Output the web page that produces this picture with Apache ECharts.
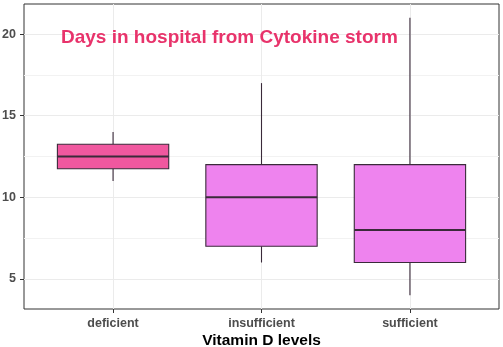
<!DOCTYPE html>
<html>
<head>
<meta charset="utf-8">
<script src="https://cdn.jsdelivr.net/npm/echarts@6/dist/echarts.min.js"></script>
<style>html,body{margin:0;padding:0;background:#fff}#c{width:503px;height:347px}</style>
</head>
<body>
<div id="c"></div>
<script>
// ---- data ----
const categories = ['deficient', 'insufficient', 'sufficient'];
const lowWhisker = [11, 6, 4];
const q1 = [11.75, 7, 6];
const median = [12.5, 10, 8];
const q3 = [13.25, 12, 12];
const highWhisker = [14, 17, 21];
const yTicks = [5, 10, 15, 20];
const yMinorTicks = [7.5, 12.5, 17.5];
const titleText = 'Days in hospital from Cytokine storm';
const xTitle = 'Vitamin D levels';

// ---- styles ----
const fills = ['#F0589F', '#EE83EE', '#EE83EE'];
const FONT = 'Liberation Sans, Arial, sans-serif';

const boxData = categories.map((c, i) => [i, lowWhisker[i], q1[i], median[i], q3[i], highWhisker[i]]);

const chart = echarts.init(document.getElementById('c'), null, {renderer: 'canvas'});
chart.setOption({
  animation: false,
  backgroundColor: '#fff',
  title: {
    text: titleText,
    left: 61, top: 28,
    padding: 0,
    textStyle: {fontFamily: FONT, fontSize: 19, fontWeight: 'bold', color: '#E8336B'}
  },
  grid: {
    left: 24, right: 4, top: 4, bottom: 38,
    outerBoundsMode: 'none', containLabel: false,
    show: true, borderColor: '#333333', borderWidth: 1, backgroundColor: '#fff'
  },
  xAxis: {
    type: 'value', min: -0.6, max: 2.6,
    name: xTitle, nameLocation: 'middle', nameGap: 24, nameMoveOverlap: false,
    nameTextStyle: {fontFamily: FONT, fontSize: 15.5, fontWeight: 'bold', color: '#000', verticalAlign: 'top'},
    axisLine: {show: false, onZero: false},
    axisTick: {show: true, length: 4, lineStyle: {color: '#333'}, customValues: [0, 1, 2]},
    axisLabel: {
      customValues: [0, 1, 2], margin: 8,
      fontFamily: FONT, fontSize: 12.5, fontWeight: 'bold', color: '#4D4D4D',
      formatter: v => categories[Math.round(v)]
    },
    splitLine: {show: true, lineStyle: {color: '#EBEBEB', width: 1}}
  },
  yAxis: [{
    type: 'value', min: 3.15, max: 21.85,
    axisLine: {show: false, onZero: false},
    axisTick: {show: true, length: 4, lineStyle: {color: '#333'}, customValues: yTicks},
    axisLabel: {
      customValues: yTicks, margin: 8,
      fontFamily: FONT, fontSize: 12.5, fontWeight: 'bold', color: '#4D4D4D'
    },
    splitLine: {show: true, lineStyle: {color: '#EBEBEB', width: 1}}
  }, {
    type: 'value', min: 3.15, max: 21.85, position: 'left',
    axisLine: {show: false, onZero: false},
    axisTick: {show: false, customValues: yMinorTicks},
    axisLabel: {show: false, customValues: yMinorTicks},
    splitLine: {show: true, lineStyle: {color: '#F2F2F2', width: 1}}
  }],
  series: [{
    type: 'custom',
    xAxisIndex: 0, yAxisIndex: 0,
    data: boxData,
    renderItem: function (params, api) {
      const x = api.value(0);
      const lw = api.coord([x, api.value(1)]);
      const b1 = api.coord([x, api.value(2)]);
      const md = api.coord([x, api.value(3)]);
      const b3 = api.coord([x, api.value(4)]);
      const hw = api.coord([x, api.value(5)]);
      const w = api.size([0.75, 0])[0];
      const left = md[0] - w / 2;
      const stroke = '#3A2A3A';
      return {
        type: 'group',
        children: [
          {type: 'line', shape: {x1: hw[0], y1: hw[1], x2: b3[0], y2: b3[1]}, style: {stroke: stroke, lineWidth: 1.1}},
          {type: 'line', shape: {x1: b1[0], y1: b1[1], x2: lw[0], y2: lw[1]}, style: {stroke: stroke, lineWidth: 1.1}},
          {type: 'rect', shape: {x: left, y: b3[1], width: w, height: b1[1] - b3[1]},
            style: {fill: fills[params.dataIndex], stroke: stroke, lineWidth: 1.1}},
          {type: 'line', shape: {x1: left, y1: md[1], x2: left + w, y2: md[1]}, style: {stroke: stroke, lineWidth: 2}}
        ]
      };
    }
  }]
});
</script>
</body>
</html>
